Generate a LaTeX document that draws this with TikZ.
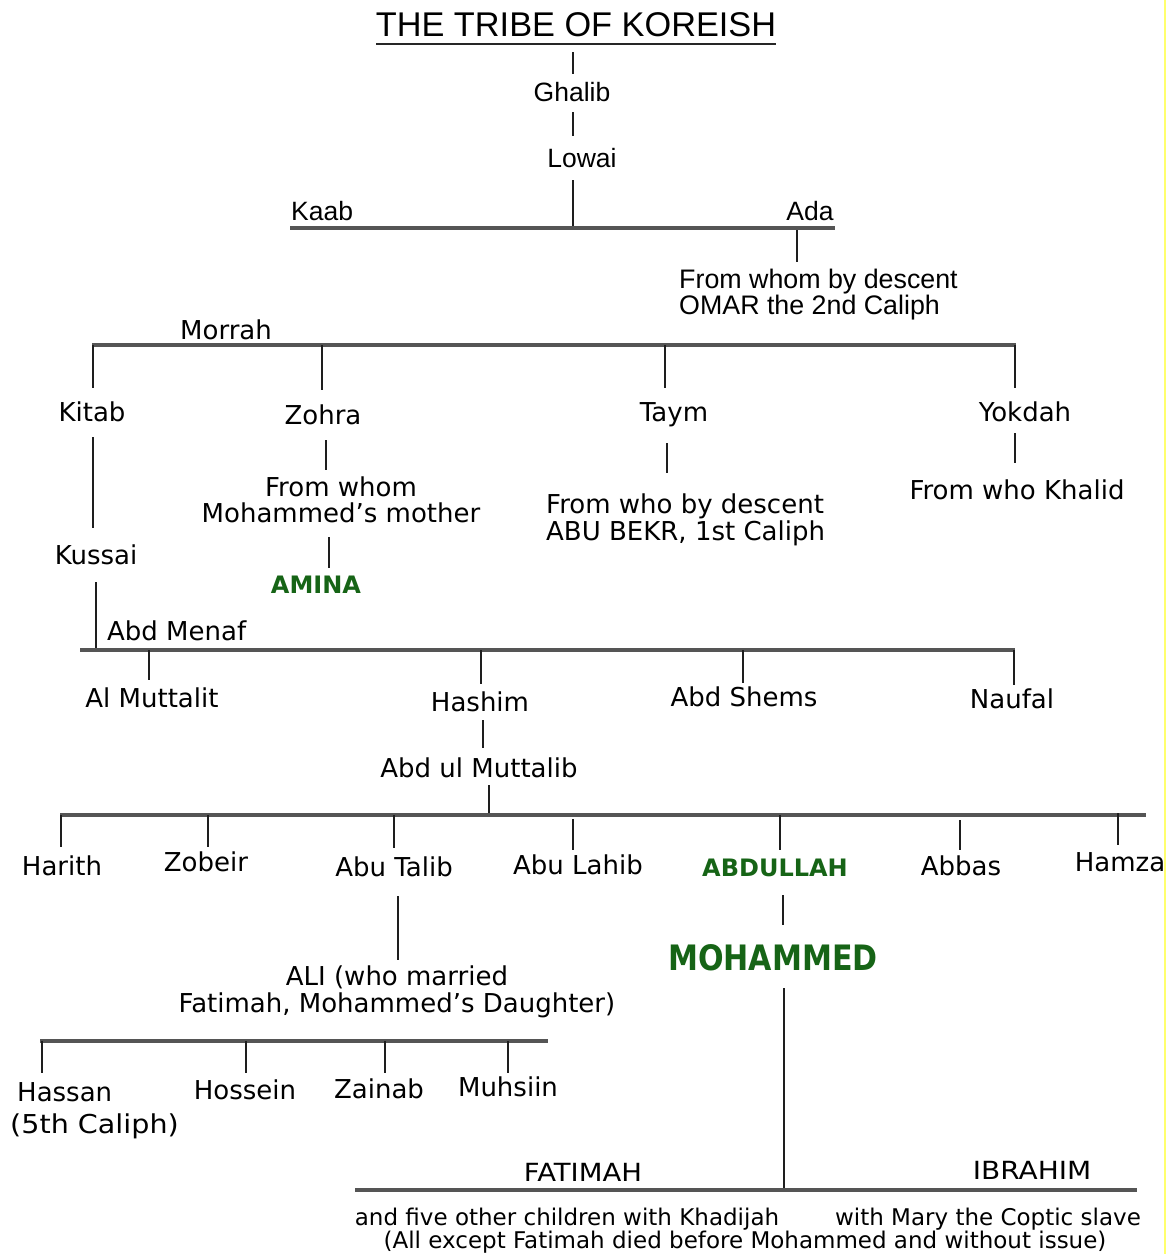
\documentclass[tikz,border=0pt]{standalone}
\usepackage{fontspec}
\usepackage{graphicx}
\setmainfont{DejaVu Sans}
\newfontfamily\arialf{Liberation Sans}
\definecolor{grn}{RGB}{22,100,22}
\definecolor{ln}{RGB}{30,30,30}
\definecolor{hl}{RGB}{85,85,85}
\definecolor{yl}{RGB}{255,255,110}
\tikzset{
  txt/.style={inner sep=0pt, text depth=0pt, font=\fontsize{26}{30}\selectfont},
  atxt/.style={inner sep=0pt, text depth=0pt, font=\arialf\fontsize{26.5}{30}\selectfont},
  mtxt/.style={inner sep=0pt, align=center, font=\fontsize{26}{26.5}\selectfont},
  gtxt/.style={inner sep=0pt, text depth=0pt, text=grn, font=\bfseries\fontsize{24}{28}\selectfont},
  stxt/.style={inner sep=0pt, text depth=0pt, font=\fontsize{23}{23}\selectfont},
  vl/.style={draw=ln, line width=2.1pt},
  hline/.style={draw=hl, line width=3.2pt}
}
\begin{document}
\begin{tikzpicture}[x=1pt,y=-1pt]
\useasboundingbox[fill=white] (0,0) rectangle (1170,1254);
\draw[yl, line width=2.5pt] (1165,0) -- (1165,1254);

% ---- top (Arial part)
\node[inner sep=0pt, text depth=0pt, font=\arialf\fontsize{34.3}{36}\selectfont] (title) at (576,25) {THE TRIBE OF KOREISH};
\coordinate (tu1) at (376,44); \coordinate (tu2) at (776,44);
\draw[draw=black!85, line width=2.6pt] (tu1) -- (tu2);
\node[atxt] (ghalib) at (572,92) {Ghalib};
\node[atxt] (lowai) at (582,158) {Lowai};
\node[atxt, anchor=west] (kaab) at (291,211) {Kaab};
\node[atxt] (ada) at (810,211) {Ada};
\node[inner sep=0pt, anchor=west, align=left, font=\arialf\fontsize{26.8}{26}\selectfont] (omar) at (679,295) {From whom by descent\\OMAR the 2nd Caliph};

\coordinate (a1) at (573,52); \coordinate (a2) at (573,74);
\coordinate (b1) at (573,112); \coordinate (b2) at (573,136);
\coordinate (c1) at (573,180); \coordinate (c2) at (573,230);
\coordinate (kl) at (290,228); \coordinate (kr) at (835,228);
\coordinate (d1) at (797,230); \coordinate (d2) at (797,262);
\draw[vl] (a1) -- (a2);
\draw[vl] (b1) -- (b2);
\draw[vl] (c1) -- (c2);
\draw[hline] (kl) -- (kr);
\draw[vl] (d1) -- (d2);

% ---- Morrah generation
\node[txt] (morrah) at (226,330) {Morrah};
\coordinate (ml) at (92,345); \coordinate (mr) at (1016,345);
\draw[hline] (ml) -- (mr);
\node[txt] (kitab) at (92,412) {Kitab};
\node[txt] (zohra) at (323,415) {Zohra};
\node[txt] (taym) at (674,412) {Taym};
\node[txt] (yokdah) at (1025,412) {Yokdah};
\coordinate (m1) at (93,345); \coordinate (m1b) at (93,388);
\coordinate (m2) at (322,345); \coordinate (m2b) at (322,390);
\coordinate (m3) at (665,345); \coordinate (m3b) at (665,388);
\coordinate (m4) at (1015,345); \coordinate (m4b) at (1015,388);
\draw[vl] (m1) -- (m1b);
\draw[vl] (m2) -- (m2b);
\draw[vl] (m3) -- (m3b);
\draw[vl] (m4) -- (m4b);

\node[txt] (kussai) at (96,555) {Kussai};
\node[mtxt] (zfrom) at (341,500) {From whom\\Mohammed’s mother};
\node[gtxt] (amina) at (316,585) {AMINA};
\node[mtxt, align=left, anchor=west] (tfrom) at (546,520) {From who by descent\\ABU BEKR, 1st Caliph};
\node[txt] (khalid) at (1017,490) {From who Khalid};

\coordinate (k1) at (93,437); \coordinate (k2) at (93,528);
\coordinate (z1) at (326,440); \coordinate (z2) at (326,470);
\coordinate (z3) at (329,537); \coordinate (z4) at (329,568);
\coordinate (t1) at (667,443); \coordinate (t2) at (667,473);
\coordinate (y1) at (1015,433); \coordinate (y2) at (1015,463);
\draw[vl] (k1) -- (k2);
\draw[vl] (z1) -- (z2);
\draw[vl] (z3) -- (z4);
\draw[vl] (t1) -- (t2);
\draw[vl] (y1) -- (y2);

% ---- Abd Menaf generation
\coordinate (ku1) at (96,582); \coordinate (ku2) at (96,650);
\draw[vl] (ku1) -- (ku2);
\node[txt, anchor=west] (menaf) at (107,631) {Abd Menaf};
\coordinate (nl) at (80,650); \coordinate (nr) at (1015,650);
\draw[hline] (nl) -- (nr);
\node[txt] (muttalit) at (152,698) {Al Muttalit};
\node[txt] (hashim) at (480,702) {Hashim};
\node[txt] (shems) at (744,697) {Abd Shems};
\node[txt] (naufal) at (1012,699) {Naufal};
\coordinate (n1) at (149,650); \coordinate (n1b) at (149,680);
\coordinate (n2) at (481,650); \coordinate (n2b) at (481,684);
\coordinate (n3) at (743,650); \coordinate (n3b) at (743,683);
\coordinate (n4) at (1014,650); \coordinate (n4b) at (1014,685);
\draw[vl] (n1) -- (n1b);
\draw[vl] (n2) -- (n2b);
\draw[vl] (n3) -- (n3b);
\draw[vl] (n4) -- (n4b);

\node[txt] (abdul) at (479,768) {Abd ul Muttalib};
\coordinate (h1) at (483,720); \coordinate (h2) at (483,748);
\coordinate (h3) at (489,785); \coordinate (h4) at (489,815);
\draw[vl] (h1) -- (h2);
\draw[vl] (h3) -- (h4);

% ---- sons of Abd ul Muttalib
\coordinate (sl) at (60,815); \coordinate (sr) at (1146,815);
\draw[hline] (sl) -- (sr);
\node[txt] (harith) at (62,866) {Harith};
\node[txt] (zobeir) at (206,862) {Zobeir};
\node[txt] (talib) at (394,867) {Abu Talib};
\node[txt] (lahib) at (578,865) {Abu Lahib};
\node[gtxt] (abdullah) at (775,868) {ABDULLAH};
\node[txt] (abbas) at (961,866) {Abbas};
\node[txt] (hamza) at (1120,862) {Hamza};
\coordinate (s1) at (61,815); \coordinate (s1b) at (61,847);
\coordinate (s2) at (208,815); \coordinate (s2b) at (208,847);
\coordinate (s3) at (394,815); \coordinate (s3b) at (394,848);
\coordinate (s4) at (573,819); \coordinate (s4b) at (573,850);
\coordinate (s5) at (780,815); \coordinate (s5b) at (780,850);
\coordinate (s6) at (960,820); \coordinate (s6b) at (960,850);
\coordinate (s7) at (1118,813); \coordinate (s7b) at (1118,845);
\draw[vl] (s1) -- (s1b);
\draw[vl] (s2) -- (s2b);
\draw[vl] (s3) -- (s3b);
\draw[vl] (s4) -- (s4b);
\draw[vl] (s5) -- (s5b);
\draw[vl] (s6) -- (s6b);
\draw[vl] (s7) -- (s7b);

% ---- Ali and Mohammed
\node[mtxt, font=\fontsize{26}{27}\selectfont] (ali) at (397,992) {ALI (who married\\Fatimah, Mohammed’s Daughter)};
\node[inner sep=0pt, text depth=0pt, text=grn] (mohammed) at (773,957) {\scalebox{0.86}[1]{\fontsize{35}{35}\bfseries\selectfont MOHAMMED}};
\coordinate (al1) at (398,896); \coordinate (al2) at (398,960);
\coordinate (mo1) at (783,895); \coordinate (mo2) at (783,925);
\coordinate (mo3) at (784,988); \coordinate (mo4) at (784,1190);
\draw[vl] (al1) -- (al2);
\draw[vl] (mo1) -- (mo2);
\draw[vl] (mo3) -- (mo4);

% ---- Ali's children
\coordinate (cl) at (40,1041); \coordinate (cr) at (548,1041);
\draw[hline] (cl) -- (cr);
\node[txt, anchor=west] (hassan) at (17,1092) {Hassan};
\node[inner sep=0pt, text depth=0pt, anchor=west] (caliph5) at (10,1124) {\scalebox{1.1}[1]{\fontsize{26}{30}\selectfont (5th Caliph)}};
\node[txt] (hossein) at (245,1090) {Hossein};
\node[txt] (zainab) at (379,1089) {Zainab};
\node[txt] (muhsiin) at (508,1087) {Muhsiin};
\coordinate (c1a) at (42,1041); \coordinate (c1b) at (42,1073);
\coordinate (c2a) at (246,1041); \coordinate (c2b) at (246,1073);
\coordinate (c3a) at (385,1041); \coordinate (c3b) at (385,1073);
\coordinate (c4a) at (508,1041); \coordinate (c4b) at (508,1073);
\draw[vl] (c1a) -- (c1b);
\draw[vl] (c2a) -- (c2b);
\draw[vl] (c3a) -- (c3b);
\draw[vl] (c4a) -- (c4b);

% ---- Mohammed's children
\node[inner sep=0pt, text depth=0pt] (fatimah) at (583,1172) {\scalebox{1.1}[1]{\fontsize{25}{25}\selectfont FATIMAH}};
\node[inner sep=0pt, text depth=0pt] (ibrahim) at (1032,1170) {\scalebox{1.12}[1]{\fontsize{25}{25}\selectfont IBRAHIM}};
\coordinate (fl) at (355,1190); \coordinate (fr) at (1137,1190);
\draw[hline] (fl) -- (fr);
\node[stxt] (khadijah) at (567,1217) {and five other children with Khadijah};
\node[stxt] (mary) at (988,1217) {with Mary the Coptic slave};
\node[stxt] (allexcept) at (745,1240) {(All except Fatimah died before Mohammed and without issue)};
\end{tikzpicture}
\end{document}
